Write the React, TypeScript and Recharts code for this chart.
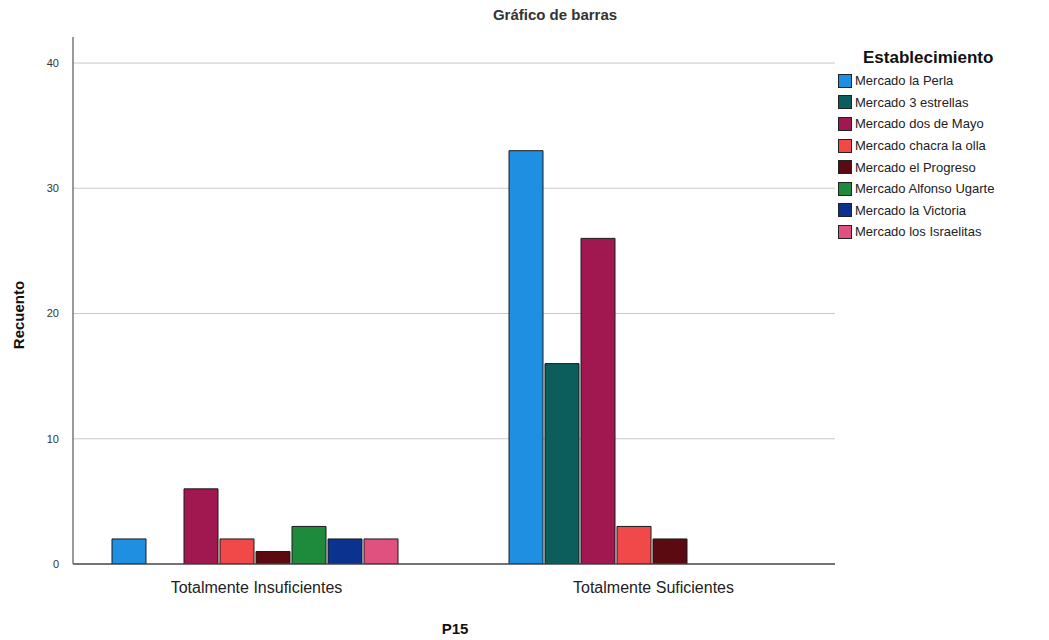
import React from 'react';
import { BarChart, Bar, XAxis, YAxis, CartesianGrid, Legend } from 'recharts';

const categories = ['Totalmente Insuficientes', 'Totalmente Suficientes'];
const seriesNames = [
  'Mercado la Perla',
  'Mercado 3 estrellas',
  'Mercado dos de Mayo',
  'Mercado chacra la olla',
  'Mercado el Progreso',
  'Mercado Alfonso Ugarte',
  'Mercado la Victoria',
  'Mercado los Israelitas',
];
const perla = [2, 33];
const tresEstrellas = [0, 16];
const dosDeMayo = [6, 26];
const chacraLaOlla = [2, 3];
const progreso = [1, 2];
const alfonsoUgarte = [3, 0];
const victoria = [2, 0];
const israelitas = [2, 0];
const yTicks = [0, 10, 20, 30, 40];
const gridValues = [10, 20, 30, 40];

const seriesValues = [perla, tresEstrellas, dosDeMayo, chacraLaOlla, progreso, alfonsoUgarte, victoria, israelitas];
const colors = ['#1f8fe2', '#0b5e5b', '#a1174f', '#f1484a', '#5a0a10', '#1e8a3c', '#0c3290', '#e1517f'];

const data = categories.map((c, i) => {
  const row: Record<string, string | number> = { category: c };
  seriesNames.forEach((s, j) => {
    row[s] = seriesValues[j][i];
  });
  return row;
});

const FONT = '"Liberation Sans", Arial, sans-serif';

const LegendContent = () => (
  <div style={{ fontFamily: FONT }}>
    <div style={{ fontWeight: 'bold', fontSize: 17, color: '#111', marginLeft: 25, height: 24, lineHeight: '24px' }}>
      Establecimiento
    </div>
    {seriesNames.map((s, i) => (
      <div key={s} style={{ display: 'flex', alignItems: 'center', height: 21.6 }}>
        <div
          style={{
            width: 14,
            height: 14,
            background: colors[i],
            border: '1px solid #222',
            boxSizing: 'border-box',
            marginRight: 3,
          }}
        />
        <span style={{ fontSize: 13, color: '#222', whiteSpace: 'nowrap' }}>{s}</span>
      </div>
    ))}
  </div>
);

export default function App() {
  return (
    <div style={{ position: 'absolute', left: 0, top: 0, width: 1049, height: 640, background: '#fff' }}>
      <BarChart
        width={1049}
        height={640}
        data={data}
        margin={{ top: 37, right: 4, bottom: 46, left: 0 }}
        barCategoryGap={54}
        barGap={2}
      >
        <text x={555} y={20} textAnchor="middle" fontFamily={FONT} fontWeight="bold" fontSize={15} fill="#333">
          Gráfico de barras
        </text>
        <text x={455} y={634} textAnchor="middle" fontFamily={FONT} fontWeight="bold" fontSize={15} fill="#111">
          P15
        </text>
        <text
          x={24}
          y={315}
          textAnchor="middle"
          fontFamily={FONT}
          fontWeight="bold"
          fontSize={15}
          fill="#111"
          transform="rotate(-90 24 315)"
        >
          Recuento
        </text>
        <CartesianGrid vertical={false} horizontalValues={gridValues} stroke="#c8c8c8" strokeWidth={1} />
        <XAxis
          dataKey="category"
          height={30}
          padding={{ left: -15, right: -17 }}
          tickLine={false}
          axisLine={{ stroke: '#444', strokeWidth: 1.5 }}
          tick={{ fontFamily: FONT, fontSize: 16, fill: '#222' }}
          tickMargin={12}
        />
        <YAxis
          width={73}
          domain={[0, 42.08]}
          ticks={yTicks}
          allowDataOverflow
          tickLine={false}
          axisLine={{ stroke: '#777', strokeWidth: 1.5 }}
          tick={{ fontFamily: FONT, fontSize: 11, fill: '#333' }}
          tickMargin={8}
        />
        <Legend
          layout="vertical"
          align="right"
          verticalAlign="top"
          content={LegendContent}
          wrapperStyle={{ left: 838, top: 46, width: 210 }}
        />
        {seriesNames.map((s, i) => (
          <Bar key={s} dataKey={s} fill={colors[i]} stroke="#1a1a1a" strokeWidth={1} isAnimationActive={false} />
        ))}
      </BarChart>
    </div>
  );
}
